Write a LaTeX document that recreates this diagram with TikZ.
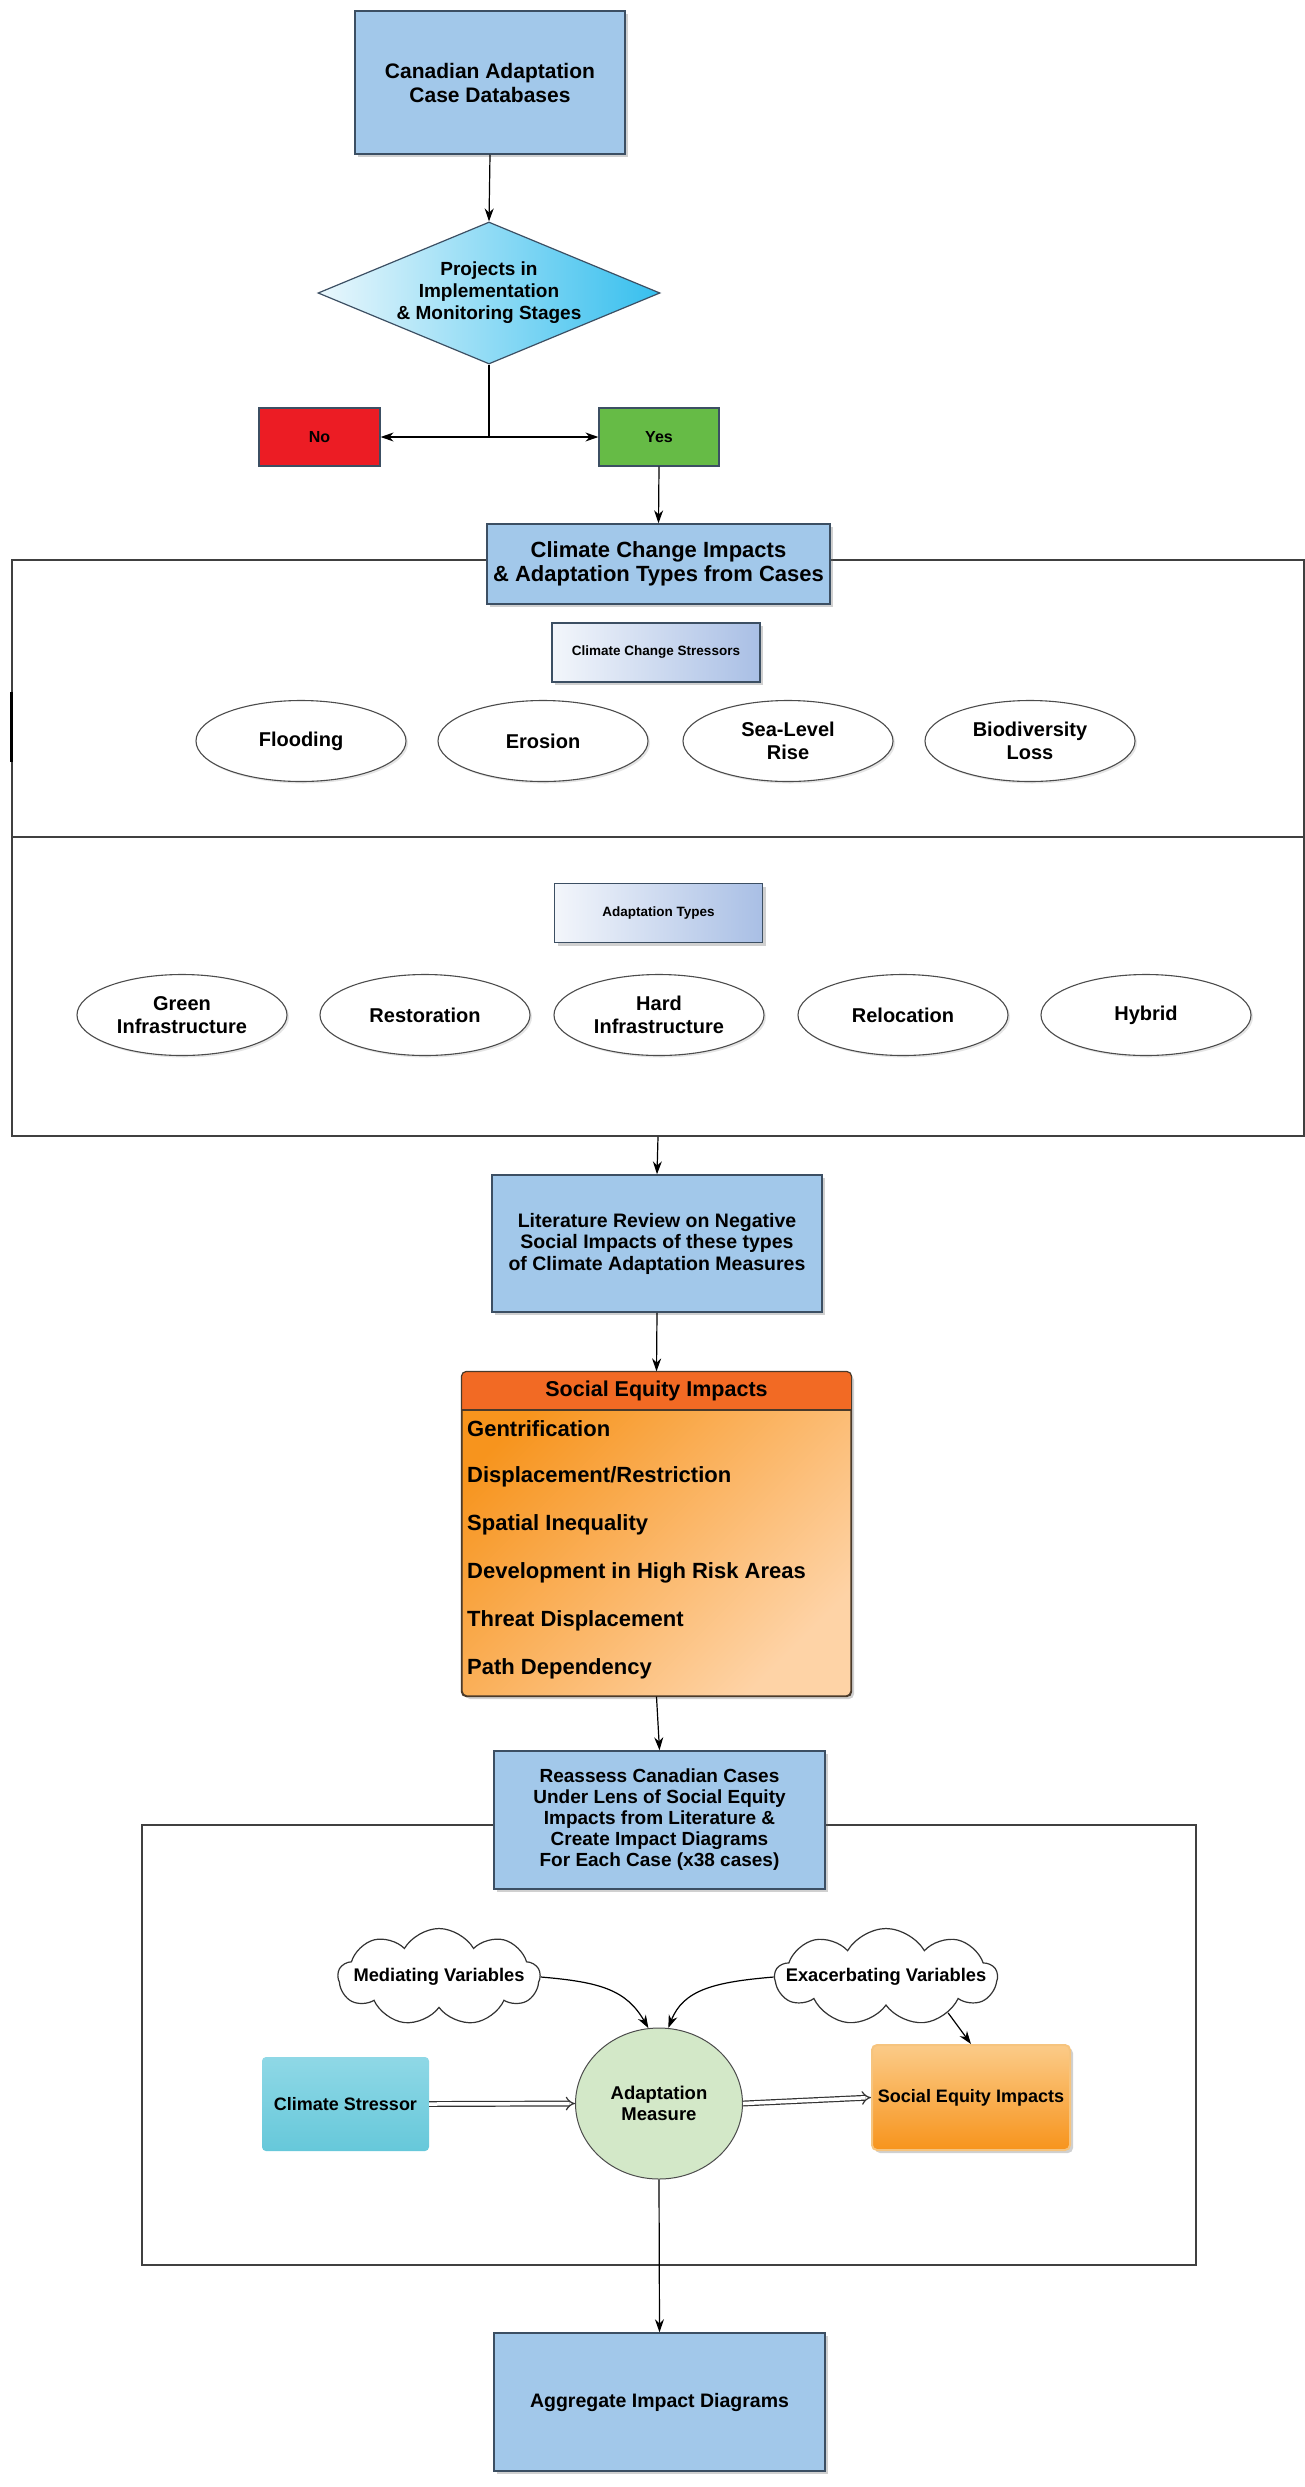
\documentclass[tikz,border=0pt]{standalone}
\usepackage{fontspec}
\setmainfont{Liberation Sans}
\usetikzlibrary{shapes.geometric,shapes.symbols,arrows.meta,shadows}
\definecolor{boxblue}{HTML}{A2C8EA}
\definecolor{boxedge}{HTML}{3C4F63}
\definecolor{diaL}{HTML}{EAF7FC}
\definecolor{diaR}{HTML}{36BFEE}
\definecolor{noRed}{HTML}{EC1C24}
\definecolor{yesGreen}{HTML}{66BB46}
\definecolor{stL}{HTML}{F3F6FB}
\definecolor{stR}{HTML}{A9BFE5}
\definecolor{framec}{HTML}{404040}
\definecolor{seA}{HTML}{F7941D}
\definecolor{seB}{HTML}{FED3A6}
\definecolor{hdr}{HTML}{F26A24}
\definecolor{seedge}{HTML}{4A3A2A}
\definecolor{amgreen}{HTML}{D3E8C8}
\definecolor{csA}{HTML}{8FD8E6}
\definecolor{csB}{HTML}{66C8DA}
\definecolor{soA}{HTML}{FBCB88}
\definecolor{soB}{HTML}{F7941D}
\definecolor{soEdge}{HTML}{F6C47E}
\newcommand\myfs[2]{\fontsize{#1}{#2}\selectfont\bfseries}
\begin{document}
\begin{tikzpicture}[x=1pt,y=-1pt,
  shad/.style={drop shadow={shadow xshift=3pt,shadow yshift=-3pt,opacity=.3,fill=black!60}},
  bluebox/.style={draw=boxedge,line width=1.5pt,fill=boxblue,align=center,inner sep=0pt,shad},
  smallbox/.style={draw=boxedge,line width=1.5pt,left color=stL,right color=stR,align=center,inner sep=0pt,shad,
     minimum width=208pt,minimum height=59pt,font=\myfs{13.5}{16}},
  ell/.style={ellipse,draw=black!70,line width=1.1pt,fill=white,minimum width=210pt,minimum height=81pt,
     inner sep=0pt,align=center,font=\myfs{20}{23.5},drop shadow={shadow xshift=2pt,shadow yshift=-2pt,opacity=.2,fill=black!50}},
  framebox/.style={draw=framec,line width=1.5pt,inner sep=0pt},
  arr/.style={-{Stealth[length=13pt,width=9pt]},line width=1.2pt,black},
  dblarr/.style={double=white,double distance=3.5pt,line width=1.2pt,black!80,-{Implies[length=9pt]}},
  cloudst/.style={cloud,cloud puffs=9,cloud puff arc=120,aspect=2.1,draw=black!80,line width=1.2pt,fill=white,
     minimum width=#1,minimum height=97pt,inner sep=0pt},
  txt/.style={inner sep=0pt,align=center}
]
\useasboundingbox[fill=white] (0,0) rectangle (1305,2487);

% ---------- top part ----------
\node[bluebox,minimum width=270pt,minimum height=143pt,font=\myfs{21}{24}] (db) at (490,82.5)
  {Canadian Adaptation\\Case Databases};
\node[diamond,draw=boxedge,line width=1.2pt,left color=diaL,right color=diaR,shape aspect=2.4,inner sep=0pt,
  minimum width=342pt,minimum height=142pt,align=center,font=\myfs{19}{22}] (dia) at (489,293)
  {Projects in\\Implementation\\\& Monitoring Stages};
\node[draw=boxedge,line width=1.2pt,fill=noRed,minimum width=121pt,minimum height=58pt,inner sep=0pt,
  font=\myfs{16}{18}] (no) at (319.5,437) {No};
\node[draw=boxedge,line width=1.2pt,fill=yesGreen,minimum width=120pt,minimum height=58pt,inner sep=0pt,
  font=\myfs{16}{18}] (yes) at (659,437) {Yes};
\draw[arr] (db.south) -- (dia.north);
\draw[arr] (dia.south) |- (no.east);
\draw[arr] (dia.south) |- (yes.west);

% ---------- frame 1 ----------
\node[framebox,minimum width=1292pt,minimum height=576pt] (fr1) at (658,848) {};
\coordinate (divy) at (0,837);
\draw[framec,line width=1.5pt] (fr1.west |- divy) -- (fr1.east |- divy);
\coordinate (mk1) at (11,692);
\coordinate (mk2) at (11,762);
\draw[line width=3pt] (mk1) -- (mk2);

\node[bluebox,minimum width=343pt,minimum height=80pt,font=\myfs{22}{24}] (cc) at (658.5,564)
  {Climate Change Impacts\\\& Adaptation Types from Cases};
\draw[arr] (yes.south) -- (cc.north);

\node[smallbox] (ccs) at (656,652.5) {Climate Change Stressors};
\node[ell] (e1) at (301,741) {Flooding};
\node[ell] (e2) at (543,741) {Erosion};
\node[ell] (e3) at (788,741) {Sea-Level\\Rise};
\node[ell] (e4) at (1030,741) {Biodiversity\\Loss};

\node[smallbox] (adt) at (658.5,913) {Adaptation Types};
\node[ell] (f1) at (182,1015) {Green\\Infrastructure};
\node[ell] (f2) at (425,1015) {Restoration};
\node[ell] (f3) at (659,1015) {Hard\\Infrastructure};
\node[ell] (f4) at (903,1015) {Relocation};
\node[ell] (f5) at (1146,1015) {Hybrid};

% ---------- literature ----------
\node[bluebox,minimum width=330pt,minimum height=137pt,font=\myfs{19.5}{21.5}] (lit) at (657,1243.5)
  {Literature Review on Negative\\Social Impacts of these types\\of Climate Adaptation Measures};
\draw[arr] (fr1.south) -- (lit.north);

% ---------- social equity impacts ----------
\node[draw=seedge,line width=1.2pt,rounded corners=5pt,top color=seA,bottom color=seB,shading angle=45,
  minimum width=389pt,minimum height=324pt,inner sep=0pt,shad] (sei) at (656.5,1534) {};
\coordinate (hb) at (0,1410);
\begin{scope}
  \clip[rounded corners=5pt] (sei.south west) rectangle (sei.north east);
  \fill[hdr] (sei.north west) rectangle (sei.east |- hb);
\end{scope}
\draw[seedge,line width=1.2pt] (sei.west |- hb) -- (sei.east |- hb);
\draw[seedge,line width=1.2pt,rounded corners=5pt] (sei.south west) rectangle (sei.north east);
\node[txt,font=\myfs{21.5}{24}] (seh) at (656.5,1391) {Social Equity Impacts};
\node[txt,anchor=west,font=\myfs{22}{24}] (s1) at (467,1429) {Gentrification};
\node[txt,anchor=west,font=\myfs{22}{24}] (s2) at (467,1477) {Displacement/Restriction};
\node[txt,anchor=west,font=\myfs{22}{24}] (s3) at (467,1525) {Spatial Inequality};
\node[txt,anchor=west,font=\myfs{22}{24}] (s4) at (467,1573) {Development in High Risk Areas};
\node[txt,anchor=west,font=\myfs{22}{24}] (s5) at (467,1621) {Threat Displacement};
\node[txt,anchor=west,font=\myfs{22}{24}] (s6) at (467,1669) {Path Dependency};
\draw[arr] (lit.south) -- (sei.north);

% ---------- frame 2 ----------
\node[framebox,minimum width=1054pt,minimum height=440pt] (fr2) at (669,2045) {};
\node[bluebox,minimum width=331pt,minimum height=138pt,font=\myfs{19}{21}] (rea) at (659.5,1820)
  {Reassess Canadian Cases\\Under Lens of Social Equity\\Impacts from Literature \&\\Create Impact Diagrams\\For Each Case (x38 cases)};
\draw[arr] (sei.south) -- (rea.north);

\node[cloudst=202pt] (med) at (439,1977) {};
\node[txt,font=\myfs{18.3}{20}] (medt) at (med.center) {Mediating Variables};
\node[cloudst=222pt] (exa) at (886,1977) {};
\node[txt,font=\myfs{18.3}{20}] (exat) at (exa.center) {Exacerbating Variables};

\node[ellipse,draw=black!70,line width=1pt,fill=amgreen,minimum width=167pt,minimum height=151pt,inner sep=0pt,
  align=center,font=\myfs{18.5}{21}] (am) at (659,2103.5) {Adaptation\\Measure};
\node[rounded corners=4pt,top color=csA,bottom color=csB,minimum width=167pt,minimum height=94pt,inner sep=0pt,
  font=\myfs{18}{20}] (cs) at (345.5,2104) {Climate Stressor};
\node[draw=soEdge,line width=2pt,rounded corners=5pt,top color=soA,bottom color=soB,minimum width=198pt,
  minimum height=105pt,inner sep=0pt,font=\myfs{18}{20},shad] (so) at (971,2097.5) {Social Equity Impacts};

\draw[dblarr] (cs.east) -- (am.west);
\draw[dblarr] (am.east) -- (so.west);
\draw[arr] (med.east) .. controls +(60,5) and +(-22,-38) .. (am.98);
\draw[arr] (exa.west) .. controls +(-60,5) and +(15,-38) .. (am.83);
\draw[arr] (exa.-30) -- (so.north);

% ---------- aggregate ----------
\node[bluebox,minimum width=331pt,minimum height=138pt,font=\myfs{19.5}{22}] (agg) at (659.5,2402)
  {Aggregate Impact Diagrams};
\draw[arr] (am.south) -- (agg.north);
\end{tikzpicture}
\end{document}
